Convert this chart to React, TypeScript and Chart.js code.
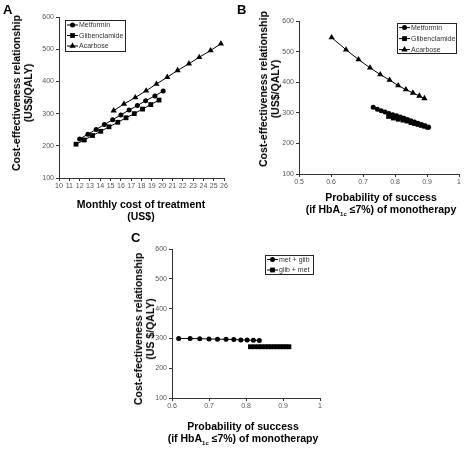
import React, { useEffect, useRef } from "react";
import { Chart, registerables } from "chart.js";
Chart.register(...registerables);

// ---------- Panel A data ----------
const aMetforminX = [12.0, 12.8, 13.6, 14.4, 15.2, 16.0, 16.8, 17.6, 18.4, 19.3, 20.1];
const aMetforminY = [221, 236, 251, 266, 281, 296, 311, 325, 340, 355, 370];
const aGlibenclamideX = [11.65, 12.45, 13.25, 14.05, 14.85, 15.7, 16.5, 17.3, 18.1, 18.9, 19.7];
const aGlibenclamideY = [205, 218, 232, 245, 259, 273, 287, 300, 314, 328, 342];
const aAcarboseX = [15.3, 16.3, 17.4, 18.45, 19.45, 20.5, 21.5, 22.6, 23.6, 24.7, 25.7];
const aAcarboseY = [309, 330, 350, 371, 392, 413, 434, 455, 475, 496, 517];

// ---------- Panel B data ----------
const bMetforminX = [0.732, 0.745, 0.757, 0.769, 0.781, 0.793, 0.805, 0.817, 0.828, 0.839, 0.85, 0.861, 0.872, 0.883, 0.894, 0.905];
const bMetforminY = [318, 312, 307, 303, 298, 294, 290, 286, 282, 278, 274, 270, 266, 262, 258, 253];
const bGlibenclamideX = [0.78, 0.795, 0.81, 0.825, 0.838, 0.85, 0.861, 0.872, 0.882, 0.892, 0.902];
const bGlibenclamideY = [288, 283, 279, 276, 273, 268, 265, 262, 259, 256, 253];
const bAcarboseX = [0.602, 0.647, 0.686, 0.722, 0.754, 0.783, 0.81, 0.834, 0.856, 0.876, 0.892];
const bAcarboseY = [546, 506, 474, 447, 425, 407, 389, 376, 365, 355, 347];

// ---------- Panel C data ----------
const cMetGlibX = [0.618, 0.649, 0.675, 0.7, 0.723, 0.746, 0.767, 0.786, 0.803, 0.82, 0.836];
const cMetGlibY = [300, 299.5, 299, 298, 297.5, 297, 296, 295, 294.5, 294, 293];
const cGlibMetX = [0.812, 0.823, 0.834, 0.843, 0.852, 0.86, 0.868, 0.876, 0.884, 0.892, 0.9, 0.908, 0.916];
const cGlibMetY = [272, 272, 272, 272, 272, 272, 272, 272, 272, 272, 272, 272, 272];

// ---------- axes ----------
const aXTicks = { min: 10, max: 26, step: 1 };
const bXTicks = { min: 0.5, max: 1, step: 0.1 };
const cXTicks = { min: 0.6, max: 1, step: 0.1 };
const yTicks = { min: 100, max: 600, step: 100 };

const FONT = '"Liberation Sans", Arial, Helvetica, sans-serif';

type Marker = "circle" | "rect" | "triangle";
type Series = { label: string; x: number[]; y: number[]; marker: Marker };

const markerRadius: Record<Marker, number> = { circle: 2.5, rect: 3.4, triangle: 3.6 };

function drawMarker(ctx: CanvasRenderingContext2D, m: Marker, x: number, y: number) {
  ctx.beginPath();
  if (m === "circle") {
    ctx.arc(x, y, 2.5, 0, Math.PI * 2);
  } else if (m === "rect") {
    ctx.rect(x - 2.4, y - 2.4, 4.8, 4.8);
  } else {
    const r = 3.6;
    ctx.moveTo(x, y - r);
    ctx.lineTo(x + r * 0.866, y + r * 0.5);
    ctx.lineTo(x - r * 0.866, y + r * 0.5);
    ctx.closePath();
  }
  ctx.fill();
}

type LegendCfg = { x: number; y: number; w: number; h: number; rowTop: number; gap: number };

type PanelProps = {
  left: number;
  top: number;
  width: number;
  height: number;
  area: { left: number; right: number; top: number; bottom: number };
  xr: { min: number; max: number; step: number };
  series: Series[];
  legend: LegendCfg;
  decimals: number;
};

function Panel(p: PanelProps) {
  const ref = useRef<HTMLCanvasElement | null>(null);
  useEffect(() => {
    if (!ref.current) return;
    const YW = 20;
    const XH = 14;
    const lg = p.legend;
    const legendPlugin = {
      id: "boxLegend",
      afterDraw(chart: any) {
        const ctx: CanvasRenderingContext2D = chart.ctx;
        ctx.save();
        ctx.strokeStyle = "#222";
        ctx.lineWidth = 1;
        ctx.fillStyle = "#fff";
        ctx.fillRect(lg.x, lg.y, lg.w, lg.h);
        ctx.strokeRect(Math.round(lg.x) + 0.5, Math.round(lg.y) + 0.5, lg.w, lg.h);
        p.series.forEach((s, i) => {
          const yy = lg.y + lg.rowTop + i * lg.gap;
          ctx.strokeStyle = "#000";
          ctx.beginPath();
          ctx.moveTo(lg.x + 2, yy);
          ctx.lineTo(lg.x + 13, yy);
          ctx.stroke();
          ctx.fillStyle = "#000";
          drawMarker(ctx, s.marker, lg.x + 7.5, yy);
          ctx.fillStyle = "#333";
          ctx.font = `7px ${FONT}`;
          ctx.textBaseline = "middle";
          ctx.textAlign = "left";
          ctx.fillText(s.label, lg.x + 14, yy + 0.5);
        });
        ctx.restore();
      },
    };
    const chart = new Chart(ref.current, {
      type: "scatter",
      data: {
        datasets: p.series.map((s) => ({
          label: s.label,
          data: s.x.map((xv, i) => ({ x: xv, y: s.y[i] })),
          showLine: true,
          borderColor: "#000",
          borderWidth: 1,
          backgroundColor: "#000",
          pointBackgroundColor: "#000",
          pointBorderColor: "#000",
          pointBorderWidth: 0,
          pointStyle: s.marker,
          pointRadius: markerRadius[s.marker],
          tension: 0,
        })),
      },
      options: {
        responsive: false,
        animation: false,
        devicePixelRatio: 1,
        layout: {
          padding: {
            left: p.area.left - YW,
            right: p.width - p.area.right,
            top: p.area.top,
            bottom: p.height - p.area.bottom - XH,
          },
        },
        plugins: { legend: { display: false }, tooltip: { enabled: false } },
        scales: {
          x: {
            type: "linear",
            min: p.xr.min,
            max: p.xr.max,
            afterFit: (s: any) => {
              s.height = XH;
            },
            ticks: {
              stepSize: p.xr.step,
              autoSkip: false,
              maxRotation: 0,
              padding: 1,
              color: "#555",
              font: { family: FONT, size: 7 },
              callback: (v: any) => String(Number(Number(v).toFixed(p.decimals))),
            },
            grid: { drawOnChartArea: false, drawTicks: true, tickLength: 3, color: "#333" },
            border: { display: true, color: "#333", width: 1 },
          },
          y: {
            type: "linear",
            min: yTicks.min,
            max: yTicks.max,
            afterFit: (s: any) => {
              s.width = YW;
            },
            ticks: {
              stepSize: yTicks.step,
              padding: 2,
              color: "#555",
              font: { family: FONT, size: 7 },
            },
            grid: { drawOnChartArea: false, drawTicks: true, tickLength: 3, color: "#333" },
            border: { display: true, color: "#333", width: 1 },
          },
        },
      },
      plugins: [legendPlugin],
    } as any);
    return () => chart.destroy();
  }, []);
  return (
    <canvas
      ref={ref}
      width={p.width}
      height={p.height}
      style={{ position: "absolute", left: p.left, top: p.top, width: p.width, height: p.height }}
    />
  );
}

const titleStyle: React.CSSProperties = {
  position: "absolute",
  fontFamily: FONT,
  fontWeight: "bold",
  fontSize: 10.5,
  lineHeight: "12px",
  color: "#000",
  whiteSpace: "nowrap",
  textAlign: "center",
};

function YTitle({ cx, cy, children }: { cx: number; cy: number; children: React.ReactNode }) {
  return (
    <div style={{ ...titleStyle, left: cx, top: cy, transform: "translate(-50%, -50%) rotate(-90deg)" }}>
      {children}
    </div>
  );
}

function XTitle({ cx, cy, children }: { cx: number; cy: number; children: React.ReactNode }) {
  return <div style={{ ...titleStyle, left: cx, top: cy, transform: "translate(-50%, -50%)" }}>{children}</div>;
}

function Letter({ x, y, t }: { x: number; y: number; t: string }) {
  return (
    <div style={{ position: "absolute", left: x, top: y, fontFamily: FONT, fontWeight: "bold", fontSize: 13, lineHeight: "13px" }}>
      {t}
    </div>
  );
}

const Hba = () => (
  <span>
    (if HbA
    <span style={{ fontSize: 6, position: "relative", top: 3 }}>1c</span> ≤7%) of monotherapy
  </span>
);

export default function App() {
  const seriesA: Series[] = [
    { label: "Metformin", x: aMetforminX, y: aMetforminY, marker: "circle" },
    { label: "Glibenclamide", x: aGlibenclamideX, y: aGlibenclamideY, marker: "rect" },
    { label: "Acarbose", x: aAcarboseX, y: aAcarboseY, marker: "triangle" },
  ];
  const seriesB: Series[] = [
    { label: "Metformin", x: bMetforminX, y: bMetforminY, marker: "circle" },
    { label: "Glibenclamide", x: bGlibenclamideX, y: bGlibenclamideY, marker: "rect" },
    { label: "Acarbose", x: bAcarboseX, y: bAcarboseY, marker: "triangle" },
  ];
  const seriesC: Series[] = [
    { label: "met + glib", x: cMetGlibX, y: cMetGlibY, marker: "circle" },
    { label: "glib + met", x: cGlibMetX, y: cGlibMetY, marker: "rect" },
  ];
  return (
    <div style={{ position: "fixed", left: 0, top: 0, width: 464, height: 451, background: "#fff", overflow: "hidden" }}>
      <Panel
        left={0}
        top={0}
        width={232}
        height={225}
        area={{ left: 59, right: 224, top: 17, bottom: 178 }}
        xr={aXTicks}
        series={seriesA}
        legend={{ x: 65, y: 20, w: 60, h: 31, rowTop: 5, gap: 10.5 }}
        decimals={0}
      />
      <Panel
        left={232}
        top={0}
        width={232}
        height={225}
        area={{ left: 67, right: 227, top: 21, bottom: 174 }}
        xr={bXTicks}
        series={seriesB}
        legend={{ x: 165, y: 23, w: 59, h: 30, rowTop: 4.6, gap: 11 }}
        decimals={1}
      />
      <Panel
        left={100}
        top={225}
        width={232}
        height={226}
        area={{ left: 72, right: 220, top: 24, bottom: 173 }}
        xr={cXTicks}
        series={seriesC}
        legend={{ x: 165, y: 30, w: 48, h: 19, rowTop: 4.5, gap: 10.5 }}
        decimals={1}
      />

      <Letter x={3} y={3} t="A" />
      <Letter x={237} y={3} t="B" />
      <Letter x={131} y={231} t="C" />

      <YTitle cx={22} cy={93}>
        Cost-effectiveness relationship
        <br />
        (US$/QALY)
      </YTitle>
      <XTitle cx={141} cy={210}>
        Monthly cost of treatment
        <br />
        (US$)
      </XTitle>

      <YTitle cx={269} cy={89}>
        Cost-effectiveness relationship
        <br />
        (US$/QALY)
      </YTitle>
      <XTitle cx={381} cy={204}>
        Probability of success
        <br />
        <Hba />
      </XTitle>

      <YTitle cx={144} cy={329}>
        Cost-efectiveness relationship
        <br />
        (US $/QALY)
      </YTitle>
      <XTitle cx={243} cy={433}>
        Probability of success
        <br />
        <Hba />
      </XTitle>
    </div>
  );
}
